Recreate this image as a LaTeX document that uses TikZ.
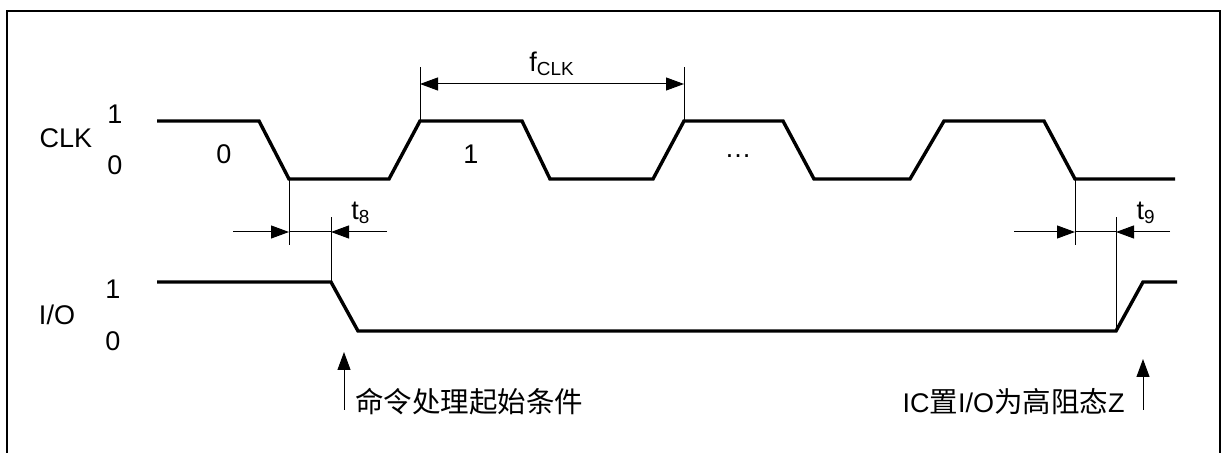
\documentclass[tikz,border=0pt]{standalone}
\usepackage{fontspec}
\setmainfont{Liberation Sans}
\newfontfamily\cjk{Noto Sans CJK SC}
\usetikzlibrary{arrows.meta}

\begin{document}
\begin{tikzpicture}[x=0.5pt,y=-0.5pt,
    wave/.style={line width=1.7pt},
    dimline/.style={line width=0.5pt},
    tip/.style={-{Triangle[length=9pt,width=6.5pt]}},
    lbl/.style={inner sep=0pt,font=\fontsize{13.5}{16}\selectfont},
    cjklbl/.style={inner sep=0pt,font=\fontsize{14.25}{17}\selectfont\cjk}]
  \useasboundingbox (0,0) rectangle (1226,453);
  % Rahmen
  \draw[line width=1.2pt] (7,470) -- (7,11) -- (1220,11) -- (1220,470);

  % CLK
  \draw[wave] (157,121) -- (259,121) -- (289,179) coordinate (clkA) -- (389,179)
    -- (420,121) coordinate (clkR1) -- (522,121) -- (550,179) -- (653,179)
    -- (684,121) coordinate (clkR2) -- (783,121) -- (814,179) -- (910,179)
    -- (944,121) -- (1044,121) -- (1075,179) coordinate (clkB) -- (1175,179);
  % I/O
  \draw[wave] (157,282) -- (331,282) coordinate (ioA) -- (358,331)
    -- (1116,331) coordinate (ioB) -- (1143,282) -- (1177,282);

  \node[lbl] (clk) at (66,138) {CLK};
  \node[lbl] (clk1) at (115,114) {1};
  \node[lbl] (clk0) at (115,165) {0};
  \node[lbl] (io) at (57,315) {I/O};
  \node[lbl] (io1) at (113,289) {1};
  \node[lbl] (io0) at (113,341) {0};
  \node[lbl] (bit0) at (224,154) {0};
  \node[lbl] (bit1) at (471,154) {1};
  \node[lbl] (dots) at (738,156) {\ldots};

  % f_CLK
  \coordinate (fTop1) at (420,67);
  \coordinate (fTop2) at (684,67);
  \coordinate (f1) at (420,84);
  \coordinate (f2) at (684,84);
  \draw[dimline] (clkR1) -- (fTop1);
  \draw[dimline] (clkR2) -- (fTop2);
  \draw[dimline,{Triangle[length=9pt,width=6.5pt]}-{Triangle[length=9pt,width=6.5pt]}] (f1) -- (f2);
  \node[lbl] (fclk) at (552,64) {f\textsubscript{CLK}};

  % t8, t9
  \foreach \n/\xa/\xb/\xl/\xr/\clk/\io in {8/289/331/233/387/clkA/ioA, 9/1075/1116/1014/1170/clkB/ioB} {
    \coordinate (t\n a) at (\xa,245);
    \coordinate (t\n b) at (\xb,217);
    \coordinate (t\n L) at (\xl,232);
    \coordinate (t\n l) at (\xa,232);
    \coordinate (t\n r) at (\xb,232);
    \coordinate (t\n R) at (\xr,232);
    \draw[dimline] (\clk) -- (t\n a);
    \draw[dimline] (\io) -- (t\n b);
    \draw[dimline,tip] (t\n L) -- (t\n l);
    \draw[dimline] (t\n l) -- (t\n r);
    \draw[dimline,tip] (t\n R) -- (t\n r);
    \node[lbl] (t\n) at (\xb+30,213) {t\textsubscript{\n}};
  }

  % Hinweise
  \node[cjklbl,anchor=base west] (cmd) at (355,413) {命令处理起始条件};
  \coordinate (cmdA) at (344,410);
  \coordinate (cmdB) at (344,352);
  \draw[dimline,tip] (cmdA) -- (cmdB);
  \node[lbl,anchor=base east] (hiz) at (1125,413) {IC{\cjk\fontsize{14.25}{17}\selectfont 置}I/O{\cjk\fontsize{14.25}{17}\selectfont 为高阻态}Z};
  \coordinate (hizA) at (1143,410);
  \coordinate (hizB) at (1143,359);
  \draw[dimline,tip] (hizA) -- (hizB);
\end{tikzpicture}
\end{document}
